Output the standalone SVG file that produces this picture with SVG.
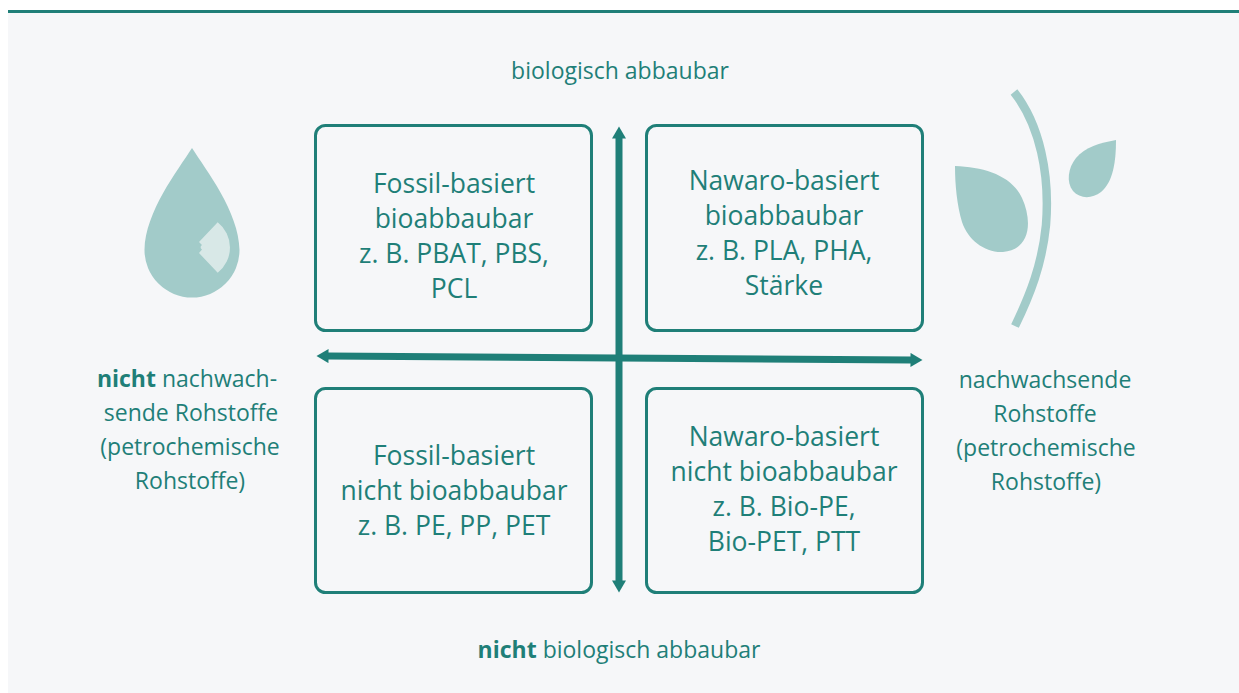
<svg xmlns="http://www.w3.org/2000/svg" width="1239" height="693" viewBox="0 0 1239 693">
<style>
.bg{fill:#f6f7f9}
.box{fill:none;stroke:#1f7f78;stroke-width:3}
.t{font-family:"Open Sans","Liberation Sans",sans-serif;fill:#1f7f78;text-anchor:middle}
.bt{font-size:26.5px}
.st{font-size:23px}
.b{font-weight:bold}
.icon{fill:#a2cbc9}
.ax{stroke:#1f7f78;stroke-width:7;fill:none}
</style>
<defs>
<marker id="ah" markerUnits="userSpaceOnUse" markerWidth="14" markerHeight="14" refX="0.5" refY="7" orient="auto-start-reverse" viewBox="0 0 12 14">
<path d="M0,0 L12,7 L0,14 Z" fill="#1f7f78"/>
</marker>
</defs>
<rect x="0" y="0" width="1239" height="693" fill="#ffffff"/>
<rect class="bg" x="8" y="12" width="1231" height="681"/>
<rect x="8" y="10" width="1231" height="3" fill="#1f7f78"/>

<g id="connectors">
<line class="ax" x1="619" y1="138" x2="619" y2="581" marker-start="url(#ah)" marker-end="url(#ah)"/>
<line class="ax" x1="328" y1="356.1" x2="911" y2="359.9" marker-start="url(#ah)" marker-end="url(#ah)"/>
</g>

<g id="box-fossil-bio">
<rect class="box" x="315.5" y="125.5" width="276" height="205" rx="10"/>
<text class="t bt" x="454" y="193">Fossil-basiert</text>
<text class="t bt" x="454" y="228">bioabbaubar</text>
<text class="t bt" x="454" y="263">z. B. PBAT, PBS,</text>
<text class="t bt" x="454" y="298">PCL</text>
</g>
<g id="box-nawaro-bio">
<rect class="box" x="646.5" y="125.5" width="276" height="205" rx="10"/>
<text class="t bt" x="784" y="190">Nawaro-basiert</text>
<text class="t bt" x="784" y="225">bioabbaubar</text>
<text class="t bt" x="784" y="260">z. B. PLA, PHA,</text>
<text class="t bt" x="784" y="295">Stärke</text>
</g>
<g id="box-fossil-nonbio">
<rect class="box" x="315.5" y="388.5" width="276" height="204" rx="10"/>
<text class="t bt" x="454" y="465">Fossil-basiert</text>
<text class="t bt" x="454" y="500">nicht bioabbaubar</text>
<text class="t bt" x="454" y="535">z. B. PE, PP, PET</text>
</g>
<g id="box-nawaro-nonbio">
<rect class="box" x="646.5" y="388.5" width="276" height="204" rx="10"/>
<text class="t bt" x="784" y="446">Nawaro-basiert</text>
<text class="t bt" x="784" y="481">nicht bioabbaubar</text>
<text class="t bt" x="784" y="516">z. B. Bio-PE,</text>
<text class="t bt" x="784" y="551">Bio-PET, PTT</text>
</g>

<g id="label-top">
<text class="t st" x="620" y="79">biologisch abbaubar</text>
</g>
<g id="label-bottom">
<text class="t st" x="619" y="658"><tspan class="b">nicht</tspan> biologisch abbaubar</text>
</g>
<g id="label-left">
<text class="t st" x="187" y="387"><tspan class="b">nicht</tspan> nachwach-</text>
<text class="t st" x="191" y="421">sende Rohstoffe</text>
<text class="t st" x="190" y="455">(petrochemische</text>
<text class="t st" x="190" y="489">Rohstoffe)</text>
</g>
<g id="label-right">
<text class="t st" x="1045" y="388">nachwachsende</text>
<text class="t st" x="1045" y="422">Rohstoffe</text>
<text class="t st" x="1046" y="456">(petrochemische</text>
<text class="t st" x="1046" y="490">Rohstoffe)</text>
</g>

<g id="icon-drop">
<path class="icon" d="M192,148 C178,170 145,212 144.5,250 A47.5,47.5 0 0 0 239.5,250 C239,212 206,170 192,148 Z"/>
<path fill="#d8e8e7" d="M217.7,222.3 A32,32 0 0 1 217.7,272.7 L199,253 L202,249.5 A2.5,2.5 0 0 1 202,245 L199,242 Z"/>
</g>
<g id="icon-plant">
<path d="M1014,92 C1040,125 1050,175 1046,225 C1042,265 1030,295 1015,326" fill="none" stroke="#a2cbc9" stroke-width="8.5"/>
<path class="icon" d="M955,166 C985,167 1012,176 1022,198 C1033,222 1030,250 1003,252 C985,253 968,240 962,222 C957,205 955,185 955,166 Z"/>
<path class="icon" d="M1116,140 C1100,143 1085,147 1076,158 C1068,168 1066,182 1073,191 C1080,199 1092,199 1101,192 C1113,182 1116,162 1116,140 Z"/>
</g>
</svg>
